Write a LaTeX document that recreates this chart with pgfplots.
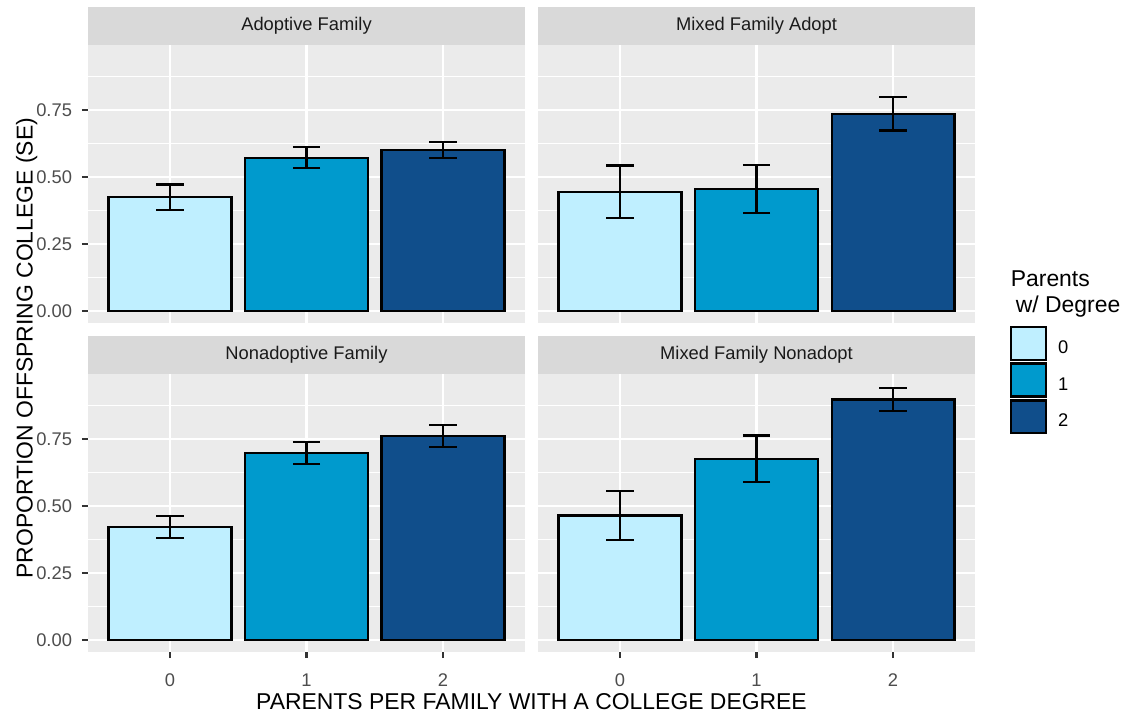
\documentclass[border=0pt]{standalone}
\usepackage{pgfplots}
\pgfplotsset{compat=1.18}
\usepackage{fontspec}
\setmainfont{Liberation Sans}
\definecolor{cZero}{HTML}{BFEFFF}
\definecolor{cOne}{HTML}{009ACD}
\definecolor{cTwo}{HTML}{104E8B}
\definecolor{panelbg}{HTML}{EBEBEB}
\definecolor{stripbg}{HTML}{D9D9D9}
\definecolor{grey30}{HTML}{4D4D4D}
\definecolor{grey20}{HTML}{333333}
\definecolor{grey10}{HTML}{1A1A1A}
\pgfplotsset{
  every axis title shift=0pt,
  facet/.style={
    scale only axis, width=209.76bp, height=133.44bp,
    xmin=-0.6, xmax=2.6, ymin=-0.046, ymax=0.994,
    axis background/.style={fill=panelbg},
    axis line style={draw=none},
    xtick={0,1,2}, xticklabels={0,1,2},
    ytick={0,0.25,0.5,0.75}, yticklabels={0.00,0.25,0.50,0.75},
    minor ytick={0.125,0.375,0.625,0.875},
    xmajorgrids, ymajorgrids, yminorgrids,
    major grid style={white, line width=1.07bp},
    minor grid style={white, line width=0.53bp},
    tick align=outside, xtick pos=bottom, ytick pos=left,
    major tick length=2.9bp, minor tick length=0pt,
    tick style={grey20, line width=1.07bp},
    /pgf/number format/assume math mode=true,
    ticklabel style={font=\fontsize{8.8bp}{10bp}\selectfont, text=grey30, inner sep=0pt},
    xticklabel style={anchor=base, yshift=-13.8bp},
    yticklabel style={anchor=east, xshift=-4.6bp},
    ybar, bar width=0.9, bar shift=0pt,
    title style={at={(0.5,1)}, anchor=south, fill=stripbg,
      minimum width=209.76bp, minimum height=18.24bp, inner sep=0pt, outer sep=0pt,
      text=grey10, font=\fontsize{8.8bp}{10bp}\selectfont},
    every axis plot/.append style={draw=black, line width=1.07bp},
    error bars/y dir=both, error bars/y explicit,
    error bars/error bar style={black, line width=1.07bp},
    error bars/error mark options={black, line width=1.07bp, mark size=6.56bp, rotate=90},
  },
  notopx/.style={xticklabels={}, xtick style={draw=none}},
  noleft/.style={yticklabels={}, ytick style={draw=none}},
}
\begin{document}
\begin{tikzpicture}
\useasboundingbox (0,0) rectangle (542.88bp,-344.16bp);
% Top-left
\begin{axis}[facet, notopx, at={(42.24bp,-155.04bp)}, anchor=south west, title={Adoptive Family}]
\addplot[fill=cZero] coordinates {(0,0.425) +- (0,0.047)};
\addplot[fill=cOne] coordinates {(1,0.572) +- (0,0.039)};
\addplot[fill=cTwo] coordinates {(2,0.602) +- (0,0.030)};
\end{axis}
% Top-right
\begin{axis}[facet, notopx, noleft, at={(258.24bp,-155.04bp)}, anchor=south west, title={Mixed Family Adopt},
  legend style={at={(1.0801,-0.0097)}, anchor=north west, draw=none, fill=none,
    inner sep=0pt, outer sep=0pt, row sep=0.79bp, column sep=5.2bp,
    font=\fontsize{8.8bp}{10bp}\selectfont, nodes={inner sep=0pt, text=black}},
  legend cell align=left,
  every axis plot post/.append style={legend image code/.code={\draw[##1, draw=black, line width=1.07bp] (0bp,-5.4bp) rectangle (16.8bp,10.4bp);}}]
\addplot[fill=cZero] coordinates {(0,0.445) +- (0,0.098)};
\addlegendentry{0}
\addplot[fill=cOne] coordinates {(1,0.455) +- (0,0.089)};
\addlegendentry{1}
\addplot[fill=cTwo] coordinates {(2,0.737) +- (0,0.063)};
\addlegendentry{2}
\end{axis}
% Bottom-left
\begin{axis}[facet, at={(42.24bp,-312.96bp)}, anchor=south west, title={Nonadoptive Family}]
\addplot[fill=cZero] coordinates {(0,0.422) +- (0,0.0415)};
\addplot[fill=cOne] coordinates {(1,0.698) +- (0,0.041)};
\addplot[fill=cTwo] coordinates {(2,0.763) +- (0,0.041)};
\end{axis}
% Bottom-right
\begin{axis}[facet, noleft, at={(258.24bp,-312.96bp)}, anchor=south west, title={Mixed Family Nonadopt}]
\addplot[fill=cZero] coordinates {(0,0.465) +- (0,0.092)};
\addplot[fill=cOne] coordinates {(1,0.677) +- (0,0.087)};
\addplot[fill=cTwo] coordinates {(2,0.899) +- (0,0.044)};
\end{axis}
% Axis titles
\node[rotate=90, anchor=base, inner sep=0pt, font=\fontsize{11bp}{13bp}\selectfont] at (15.6bp,-167.2bp) {PROPORTION OFFSPRING COLLEGE (SE)};
\node[anchor=base, inner sep=0pt, font=\fontsize{11bp}{13bp}\selectfont] at (255.12bp,-340.46bp) {PARENTS PER FAMILY WITH A COLLEGE DEGREE};
% Legend title
\node[anchor=base west, inner sep=0pt, font=\fontsize{11bp}{13bp}\selectfont] at (485.0bp,-137.6bp) {Parents};
\node[anchor=base west, inner sep=0pt, font=\fontsize{11bp}{13bp}\selectfont] at (487.4bp,-150.1bp) {w/ Degree};
\end{tikzpicture}
\end{document}
